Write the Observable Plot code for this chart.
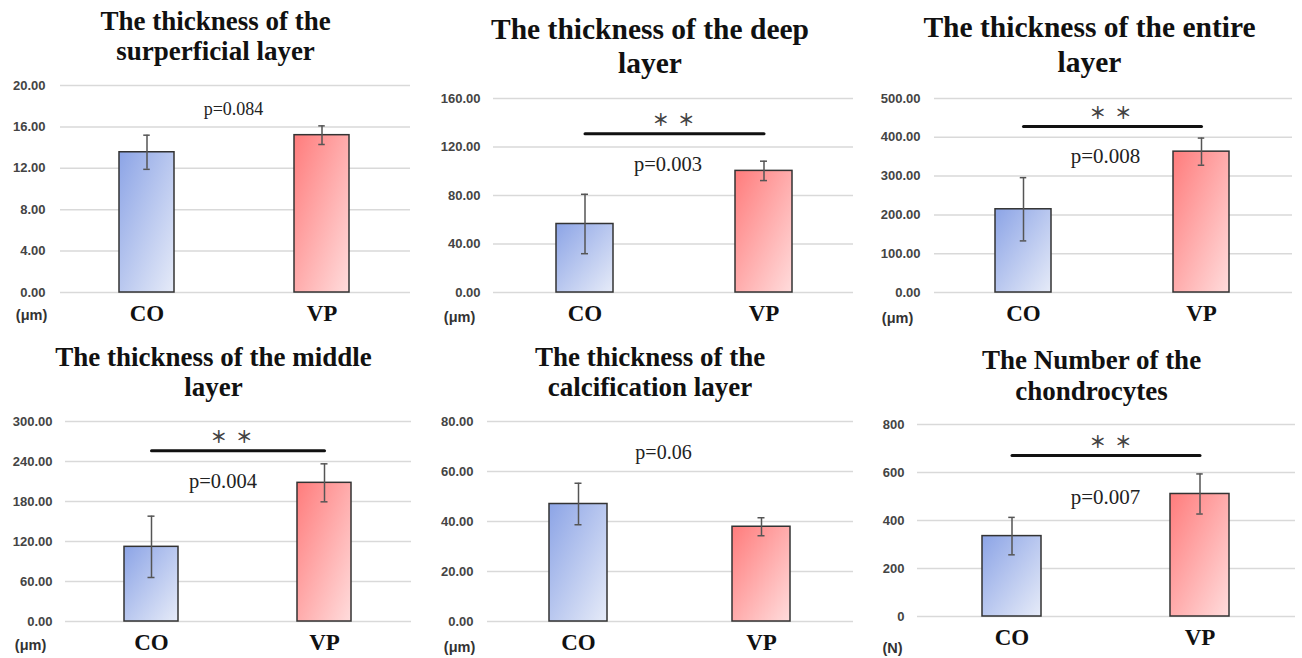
<!DOCTYPE html>
<html><head><meta charset="utf-8">
<script src="https://cdn.jsdelivr.net/npm/d3@7"></script>
<script src="https://cdn.jsdelivr.net/npm/@observablehq/plot@0.6"></script>
<style>
body{margin:0;background:#fff;}
#wrap{position:relative;width:1302px;height:658px;overflow:hidden;background:#fff;}
.panel{position:absolute;}
</style></head><body>
<svg width="1" height="1" style="position:absolute;left:0;top:0">
<defs>
<linearGradient id="gradCO" x1="0" y1="0" x2="1" y2="1">
<stop offset="0" stop-color="#8ca4e6"/><stop offset="1" stop-color="#e6ebf8"/>
</linearGradient>
<linearGradient id="gradVP" x1="0" y1="0" x2="1" y2="1">
<stop offset="0" stop-color="#ff7c7c"/><stop offset="1" stop-color="#ffdcdc"/>
</linearGradient>
</defs></svg>
<div id="wrap"></div>
<script>
// ---------- data ----------
const groups = ["CO", "VP"];
const titles = [
  "The thickness of the\nsurperficial layer",
  "The thickness of the deep\nlayer",
  "The thickness of the entire\nlayer",
  "The thickness of the middle\nlayer",
  "The thickness of the\ncalcification layer",
  "The Number of the\nchondrocytes"
];
const units = ["(μm)", "(μm)", "(μm)", "(μm)", "(μm)", "(N)"];
const coMeans = [13.55, 56.5, 214.5, 112, 47, 335];
const coSDs   = [1.65, 24.5, 81.5, 46, 8.3, 78];
const vpMeans = [15.2, 100.3, 363, 208, 37.9, 510.5];
const vpSDs   = [0.9, 8, 35, 28.5, 3.6, 83.5];
const pLabels = ["p=0.084", "p=0.003", "p=0.008", "p=0.004", "p=0.06", "p=0.007"];
const pLabelY = [17.7, 106, 350, 209.5, 67.5, 497];
const significant = [false, true, true, true, false, true];
const sigLineY = [null, 131, 428, 256, null, 671];
const sigMark = "＊\u2002＊";
const yTicks = [
  [0, 4, 8, 12, 16, 20],
  [0, 40, 80, 120, 160],
  [0, 100, 200, 300, 400, 500],
  [0, 60, 120, 180, 240, 300],
  [0, 20, 40, 60, 80],
  [0, 200, 400, 600, 800]
];
const tickDecimals = [2, 2, 2, 2, 2, 0];

// ---------- layout (pixels, per panel) ----------
const layouts = [
  {left:0,   top:0,   width:430, height:330, mL:60, mR:20, mT:85, mB:38, barL:119, barR:350, barW:55.5, tickPad:15, titleX:215, titleTop:8, titleSize:27, titleLH:1.11, pX:233, pSize:18, starX:0,   unitX:31, unitDy:23},
  {left:430, top:0,   width:430, height:330, mL:63, mR:7,  mT:98, mB:38, barL:126, barR:362, barW:57,   tickPad:13, titleX:219.5, titleTop:14, titleSize:29.5, titleLH:1.16, pX:237.5, pSize:20.5, starX:243, unitX:29, unitDy:25},
  {left:860, top:0,   width:442, height:330, mL:74, mR:10, mT:98, mB:38, barL:135, barR:370, barW:56.5, tickPad:14, titleX:229, titleTop:12, titleSize:29.5, titleLH:1.18, pX:245, pSize:21, starX:250, unitX:37, unitDy:26},
  {left:0,   top:330, width:430, height:328, mL:65, mR:19, mT:91, mB:37, barL:124, barR:351, barW:54,   tickPad:13, titleX:213, titleTop:14, titleSize:27, titleLH:1.12, pX:222.5, pSize:20.5, starX:231, unitX:30, unitDy:24},
  {left:430, top:330, width:430, height:328, mL:57, mR:7,  mT:91, mB:37, barL:119, barR:360, barW:58,   tickPad:14, titleX:219.5, titleTop:14, titleSize:27, titleLH:1.12, pX:233, pSize:20, starX:0, unitX:29, unitDy:26},
  {left:860, top:330, width:442, height:328, mL:57, mR:7,  mT:94, mB:42, barL:122, barR:370, barW:59.5, tickPad:13, titleX:231, titleTop:17, titleSize:27, titleLH:1.13, pX:245, pSize:21, starX:250, unitX:32, unitDy:32}
];

const wrap = document.getElementById("wrap");
const serif = "'Liberation Serif', 'Times New Roman', serif";
const sans = "'Liberation Sans', Arial, sans-serif";

layouts.forEach((L, i) => {
  const data = [
    {group: groups[0], mean: coMeans[i], sd: coSDs[i]},
    {group: groups[1], mean: vpMeans[i], sd: vpSDs[i]}
  ];
  const step = (L.barR - L.barL) - L.barW;
  const padIn = 1 - L.barW / step;
  const capW = 7;
  const fmt = d3.format("." + tickDecimals[i] + "f");
  const ticks = yTicks[i];
  const marks = [
    Plot.gridY(ticks, {stroke: "#d9d9d9", strokeOpacity: 1, strokeWidth: 1.5}),
    Plot.barY(data, {x: "group", y: "mean", fill: "group", stroke: "#333", strokeWidth: 1.5}),
    Plot.ruleX(data, {x: "group", y1: d => d.mean - d.sd, y2: d => d.mean + d.sd, stroke: "#555", strokeWidth: 1.5}),
    Plot.tickY(data, {x: "group", y: d => d.mean + d.sd, stroke: "#555", strokeWidth: 1.5, inset: (L.barW - capW) / 2}),
    Plot.tickY(data, {x: "group", y: d => d.mean - d.sd, stroke: "#555", strokeWidth: 1.5, inset: (L.barW - capW) / 2}),
    Plot.axisY(ticks, {tickSize: 0, tickPadding: L.tickPad, tickFormat: fmt, fontSize: 13, fontWeight: "bold", fontFamily: sans, color: "#444", label: null}),
    Plot.axisX({tickSize: 0, tickPadding: 12, fontSize: 23, fontWeight: "bold", fontFamily: serif, color: "#111", label: null}),
    Plot.text([titles[i]], {frameAnchor: "top-left", dx: L.titleX - L.mL, dy: L.titleTop - L.mT, lineAnchor: "top", textAnchor: "middle", fontSize: L.titleSize, fontWeight: "bold", fontFamily: serif, lineHeight: L.titleLH, fill: "#111"}),
    Plot.text([pLabelY[i]], {y: d => d, text: () => pLabels[i], frameAnchor: "left", dx: L.pX - L.mL, lineAnchor: "middle", textAnchor: "middle", fontSize: L.pSize, fontFamily: serif, fill: "#222"}),
    Plot.text([units[i]], {frameAnchor: "bottom-left", dx: L.unitX - L.mL, dy: L.unitDy, lineAnchor: "middle", textAnchor: "middle", fontSize: 14.5, fontWeight: "bold", fontFamily: sans, fill: "#333"})
  ];
  if (significant[i]) {
    marks.push(
      Plot.line(groups.map(g => ({group: g, y: sigLineY[i]})), {x: "group", y: "y", stroke: "#111", strokeWidth: 3}),
      Plot.text([sigLineY[i]], {y: d => d, text: () => sigMark, frameAnchor: "left", dx: L.starX - L.mL, dy: -13, lineAnchor: "middle", textAnchor: "middle", fontSize: 17, fontWeight: "bold", fontFamily: "'Noto Sans CJK JP', sans-serif", fill: "#444"})
    );
  }
  const chart = Plot.plot({
    width: L.width,
    height: L.height,
    marginLeft: L.mL,
    marginRight: L.mR,
    marginTop: L.mT,
    marginBottom: L.mB,
    style: {fontFamily: sans, background: "transparent", overflow: "visible"},
    x: {domain: groups, range: [L.barL, L.barR], paddingInner: padIn, paddingOuter: 0},
    y: {domain: [0, yTicks[i][yTicks[i].length - 1]]},
    color: {type: "ordinal", domain: groups, range: ["url(#gradCO)", "url(#gradVP)"]},
    marks
  });
  const div = document.createElement("div");
  div.className = "panel";
  div.style.left = L.left + "px";
  div.style.top = L.top + "px";
  div.appendChild(chart);
  wrap.appendChild(div);
});
</script>
</body></html>
